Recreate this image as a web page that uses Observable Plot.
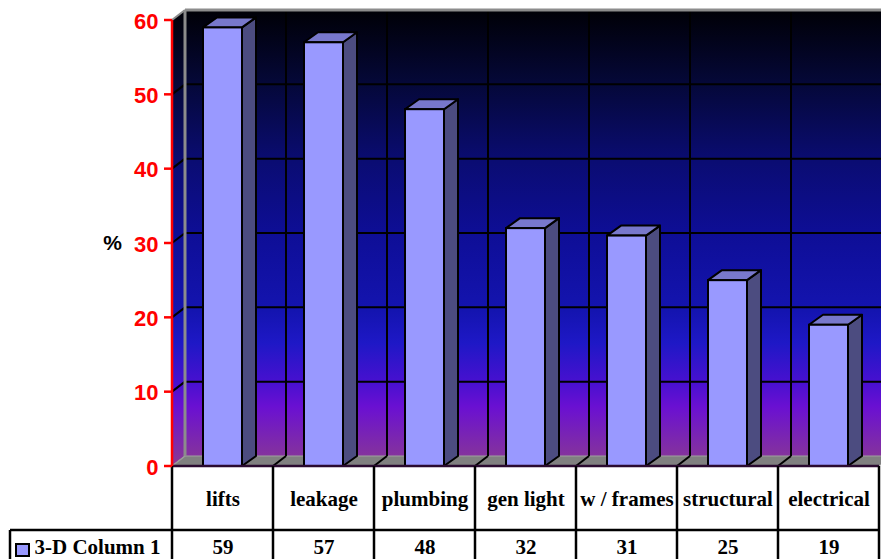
<!DOCTYPE html>
<html><head><meta charset="utf-8">
<script src="https://cdn.jsdelivr.net/npm/d3@7"></script>
<script src="https://cdn.jsdelivr.net/npm/@observablehq/plot@0.6"></script>
<style>body{margin:0;background:#fff} svg{display:block}</style>
</head><body><div id="chart"></div>
<script>
const categories = ["lifts","leakage","plumbing","gen light","w / frames","structural","electrical"];
const values = [59,57,48,32,31,25,19];
const yTicks = [0,10,20,30,40,50,60];
const seriesName = "3-D Column 1";
const axisLabel = "%";
const data = categories.map((c,i)=>({category:c, value:values[i]}));

const DX = 13, DY = -10;   // wall depth
const BDX = 14, BDY = -10; // bar depth
const SANS = "'Liberation Sans', Arial, sans-serif";
const SERIF = "'Liberation Serif', 'Times New Roman', serif";
const NS = "http://www.w3.org/2000/svg";
function el(tag, attrs){ const e=document.createElementNS(NS,tag); for(const k in attrs) e.setAttribute(k, attrs[k]); return e;}
function poly(pts, attrs){ return el("polygon", {points: pts.map(p=>p.join(",")).join(" "), ...attrs}); }
function ln(x1,y1,x2,y2,attrs){return el("line",{x1,y1,x2,y2,...attrs});}
function bounds(x){ const bw = x.bandwidth(); return {bw, x0:x(categories[0]), x1:x(categories[categories.length-1])+bw}; }

function walls(index, scales) {
  const x = scales.x, y = scales.y;
  const {bw, x0, x1} = bounds(x);
  const y0 = y(0), yTop = y(yTicks[yTicks.length-1]);
  const g = el("g", {});
  const defs = el("defs", {});
  const lg = el("linearGradient", {id:"wallGrad", gradientUnits:"userSpaceOnUse", x1:0, x2:0, y1:yTop+DY, y2:y0});
  [[0,"#000006"],[0.16,"#050838"],[0.33,"#0a0c72"],[0.49,"#0e0e96"],[0.66,"#1414b0"],[0.73,"#1e18c6"],[0.82,"#4a10d0"],[0.87,"#6a10d2"],[1,"#8a3a92"]]
    .forEach(([o,c])=>lg.appendChild(el("stop",{offset:o,"stop-color":c})));
  defs.appendChild(lg); g.appendChild(defs);
  g.appendChild(el("rect",{x:x0+DX,y:yTop+DY,width:(x1-x0)+30,height:y0-yTop,fill:"url(#wallGrad)"}));
  g.appendChild(poly([[x0,yTop],[x0+DX,yTop+DY],[x0+DX,y0+DY],[x0,y0]],{fill:"url(#wallGrad)"}));
  // floor
  g.appendChild(poly([[x0,y0],[x1,y0],[x1+DX,y0+DY],[x0+DX,y0+DY]],{fill:"#808080", stroke:"#a0a0a0", "stroke-width":1}));
  // horizontal gridlines
  for (const t of yTicks.slice(1,-1)) {
    const yy = y(t);
    g.appendChild(ln(x0, yy, x0+DX, yy+DY, {stroke:"#000","stroke-width":2}));
    g.appendChild(ln(x0+DX, yy+DY, x1+40, yy+DY, {stroke:"#000","stroke-width":2}));
  }
  // vertical gridlines and floor lines
  categories.slice(1).forEach(c => {
    const xx = x(c);
    g.appendChild(ln(xx+DX, yTop+DY, xx+DX, y0+DY, {stroke:"#000","stroke-width":2}));
    g.appendChild(ln(xx, y0, xx+DX, y0+DY, {stroke:"#000","stroke-width":2}));
  });
  // wall edges (grey)
  g.appendChild(ln(x0+DX, yTop+DY, x1+40, yTop+DY, {stroke:"#8c8c8c","stroke-width":3}));
  g.appendChild(ln(x0, yTop, x0+DX, yTop+DY, {stroke:"#8c8c8c","stroke-width":2}));
  g.appendChild(ln(x0+DX, yTop+DY, x0+DX, y0+DY, {stroke:"#8c8c8c","stroke-width":3}));
  g.appendChild(ln(x0, y0, x0+DX, y0+DY, {stroke:"#9a9a9a","stroke-width":1.5}));
  return g;
}

function barSides(index, scales) {
  const x = scales.x, y = scales.y;
  const {bw} = bounds(x);
  const g = el("g", {stroke:"#000","stroke-width":2,"stroke-linejoin":"round"});
  data.forEach(d => {
    const xl = x(d.category) + 31, xr = x(d.category) + bw - 31;
    const yv = y(d.value), y0 = y(0);
    g.appendChild(poly([[xr,yv],[xr+BDX,yv+BDY],[xr+BDX,y0+BDY],[xr,y0]],{fill:"#4c4c80"}));
    g.appendChild(poly([[xl,yv],[xl+BDX,yv+BDY],[xr+BDX,yv+BDY],[xr,yv]],{fill:"#7878cc"}));
  });
  return g;
}

function table(index, scales) {
  const x = scales.x, y = scales.y;
  const {bw, x0, x1} = bounds(x);
  const y0 = y(0);
  const g = el("g", {stroke:"#000","stroke-width":2.5});
  g.appendChild(ln(x0, y0, x1, y0, {stroke:"#2a0a30"}));
  categories.forEach(c => g.appendChild(ln(x(c), y0, x(c), 565, {})));
  g.appendChild(ln(x1, y0, x1, 565, {}));
  g.appendChild(ln(10, y0+64, x1, y0+64, {}));
  g.appendChild(ln(10, y0+64, 10, 565, {}));
  // legend swatch
  g.appendChild(el("rect",{x:16,y:y0+78,width:13,height:12,fill:"#9999FF","stroke-width":2}));
  // axis line and ticks
  g.appendChild(ln(x0, y(yTicks[yTicks.length-1]), x0, y0, {stroke:"red","stroke-width":2.5}));
  yTicks.forEach(t => g.appendChild(ln(x0-8, y(t), x0, y(t), {stroke:"red","stroke-width":2.5})));
  return g;
}

const plot = Plot.plot({
  width: 881, height: 559,
  marginLeft: 171, marginRight: 2, marginTop: 20, marginBottom: 93,
  style: {fontFamily: SANS, background: "#fff"},
  x: {type: "band", domain: categories, padding: 0, axis: null},
  y: {domain: [0, 60], axis: null},
  marks: [
    walls,
    barSides,
    Plot.barY(data, {x: "category", y: "value", fill: "#9999FF", stroke: "#000", strokeWidth: 2, insetLeft: 31, insetRight: 31}),
    table,
    Plot.text(yTicks, {y: d => d, text: d => String(d), frameAnchor: "left", textAnchor: "end", lineAnchor: "middle", dx: -13, dy: 1, fontSize: 22, fontWeight: "bold", fill: "red", fontFamily: SANS}),
    Plot.text([axisLabel], {frameAnchor: "left", textAnchor: "middle", dx: -59, fontSize: 21, fontWeight: "bold", fill: "#000", fontFamily: SANS}),
    Plot.text(data, {x: "category", text: "category", frameAnchor: "bottom", lineAnchor: "middle", dy: 33, fontSize: 21, fontWeight: "bold", fill: "#000", fontFamily: SERIF}),
    Plot.text(data, {x: "category", text: d => String(d.value), frameAnchor: "bottom", lineAnchor: "middle", dy: 81, fontSize: 21, fontWeight: "bold", fill: "#000", fontFamily: SERIF}),
    Plot.text([seriesName], {frameAnchor: "bottom-left", lineAnchor: "middle", dx: -137, dy: 81, textAnchor: "start", fontSize: 21, fontWeight: "bold", fill: "#000", fontFamily: SERIF})
  ]
});
document.getElementById("chart").appendChild(plot);
</script>
</body></html>
